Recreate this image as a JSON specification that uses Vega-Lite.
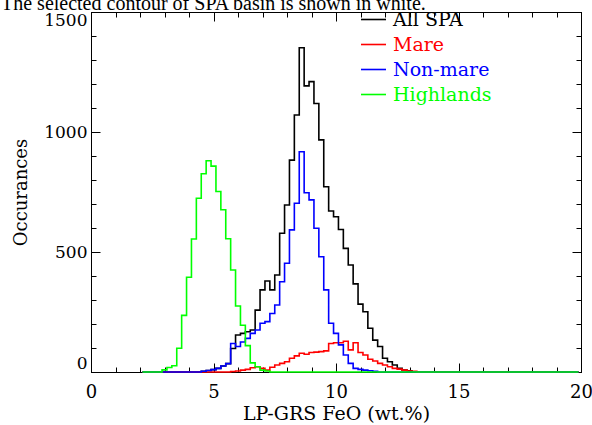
{
  "$schema": "https://vega.github.io/schema/vega-lite/v6.json",
  "autosize": "none",
  "width": 490,
  "height": 360,
  "padding": {"left": 91, "top": 12, "right": 11, "bottom": 53},
  "background": "white",
  "config": {
    "view": {"stroke": "black", "strokeWidth": 1},
    "font": "DejaVu Serif"
  },
  "title": {
    "text": "The selected contour of SPA basin is shown in white.",
    "anchor": "start",
    "frame": "group",
    "orient": "top",
    "dx": -90,
    "dy": 24,
    "offset": 0,
    "baseline": "alphabetic",
    "font": "Liberation Serif",
    "fontSize": 20,
    "fontWeight": "normal",
    "color": "black"
  },
  "data": {
    "values": [
      {"series": "All SPA", "x": 2.1, "n": 0},
      {"series": "All SPA", "x": 4.5, "n": 3},
      {"series": "All SPA", "x": 4.7, "n": 6},
      {"series": "All SPA", "x": 4.9, "n": 10},
      {"series": "All SPA", "x": 5.1, "n": 15},
      {"series": "All SPA", "x": 5.3, "n": 25},
      {"series": "All SPA", "x": 5.5, "n": 35},
      {"series": "All SPA", "x": 5.7, "n": 98},
      {"series": "All SPA", "x": 5.9, "n": 154},
      {"series": "All SPA", "x": 6.1, "n": 161},
      {"series": "All SPA", "x": 6.3, "n": 168},
      {"series": "All SPA", "x": 6.5, "n": 175},
      {"series": "All SPA", "x": 6.7, "n": 258},
      {"series": "All SPA", "x": 6.9, "n": 342},
      {"series": "All SPA", "x": 7.1, "n": 379},
      {"series": "All SPA", "x": 7.3, "n": 342},
      {"series": "All SPA", "x": 7.5, "n": 404},
      {"series": "All SPA", "x": 7.7, "n": 578},
      {"series": "All SPA", "x": 7.9, "n": 696},
      {"series": "All SPA", "x": 8.1, "n": 883},
      {"series": "All SPA", "x": 8.3, "n": 1071},
      {"series": "All SPA", "x": 8.5, "n": 1351},
      {"series": "All SPA", "x": 8.7, "n": 1192},
      {"series": "All SPA", "x": 8.9, "n": 1210},
      {"series": "All SPA", "x": 9.1, "n": 1119},
      {"series": "All SPA", "x": 9.3, "n": 967},
      {"series": "All SPA", "x": 9.5, "n": 772},
      {"series": "All SPA", "x": 9.7, "n": 671},
      {"series": "All SPA", "x": 9.9, "n": 647},
      {"series": "All SPA", "x": 10.1, "n": 594},
      {"series": "All SPA", "x": 10.3, "n": 515},
      {"series": "All SPA", "x": 10.5, "n": 446},
      {"series": "All SPA", "x": 10.7, "n": 367},
      {"series": "All SPA", "x": 10.9, "n": 283},
      {"series": "All SPA", "x": 11.1, "n": 251},
      {"series": "All SPA", "x": 11.3, "n": 182},
      {"series": "All SPA", "x": 11.5, "n": 133},
      {"series": "All SPA", "x": 11.7, "n": 106},
      {"series": "All SPA", "x": 11.9, "n": 57},
      {"series": "All SPA", "x": 12.1, "n": 43},
      {"series": "All SPA", "x": 12.3, "n": 29},
      {"series": "All SPA", "x": 12.5, "n": 15},
      {"series": "All SPA", "x": 12.7, "n": 8},
      {"series": "All SPA", "x": 12.9, "n": 5},
      {"series": "All SPA", "x": 13.1, "n": 0},
      {"series": "All SPA", "x": 19.9, "n": 0},

      {"series": "Mare", "x": 2.1, "n": 0},
      {"series": "Mare", "x": 5.7, "n": 2},
      {"series": "Mare", "x": 5.9, "n": 4},
      {"series": "Mare", "x": 6.1, "n": 8},
      {"series": "Mare", "x": 6.3, "n": 11},
      {"series": "Mare", "x": 6.5, "n": 18},
      {"series": "Mare", "x": 6.7, "n": 22},
      {"series": "Mare", "x": 6.9, "n": 15},
      {"series": "Mare", "x": 7.1, "n": 8},
      {"series": "Mare", "x": 7.3, "n": 20},
      {"series": "Mare", "x": 7.5, "n": 29},
      {"series": "Mare", "x": 7.7, "n": 36},
      {"series": "Mare", "x": 7.9, "n": 43},
      {"series": "Mare", "x": 8.1, "n": 57},
      {"series": "Mare", "x": 8.3, "n": 67},
      {"series": "Mare", "x": 8.5, "n": 78},
      {"series": "Mare", "x": 8.7, "n": 74},
      {"series": "Mare", "x": 8.9, "n": 81},
      {"series": "Mare", "x": 9.1, "n": 83},
      {"series": "Mare", "x": 9.3, "n": 85},
      {"series": "Mare", "x": 9.5, "n": 88},
      {"series": "Mare", "x": 9.7, "n": 119},
      {"series": "Mare", "x": 9.9, "n": 122},
      {"series": "Mare", "x": 10.1, "n": 122},
      {"series": "Mare", "x": 10.3, "n": 128},
      {"series": "Mare", "x": 10.5, "n": 92},
      {"series": "Mare", "x": 10.7, "n": 122},
      {"series": "Mare", "x": 10.9, "n": 81},
      {"series": "Mare", "x": 11.1, "n": 71},
      {"series": "Mare", "x": 11.3, "n": 53},
      {"series": "Mare", "x": 11.5, "n": 46},
      {"series": "Mare", "x": 11.7, "n": 36},
      {"series": "Mare", "x": 11.9, "n": 29},
      {"series": "Mare", "x": 12.1, "n": 22},
      {"series": "Mare", "x": 12.3, "n": 15},
      {"series": "Mare", "x": 12.5, "n": 12},
      {"series": "Mare", "x": 12.7, "n": 8},
      {"series": "Mare", "x": 12.9, "n": 4},
      {"series": "Mare", "x": 13.1, "n": 3},
      {"series": "Mare", "x": 13.3, "n": 0},
      {"series": "Mare", "x": 19.9, "n": 0},

      {"series": "Non-mare", "x": 2.1, "n": 0},
      {"series": "Non-mare", "x": 4.5, "n": 3},
      {"series": "Non-mare", "x": 4.7, "n": 6},
      {"series": "Non-mare", "x": 4.9, "n": 10},
      {"series": "Non-mare", "x": 5.1, "n": 15},
      {"series": "Non-mare", "x": 5.3, "n": 25},
      {"series": "Non-mare", "x": 5.5, "n": 35},
      {"series": "Non-mare", "x": 5.7, "n": 119},
      {"series": "Non-mare", "x": 5.9, "n": 106},
      {"series": "Non-mare", "x": 6.1, "n": 125},
      {"series": "Non-mare", "x": 6.3, "n": 140},
      {"series": "Non-mare", "x": 6.5, "n": 161},
      {"series": "Non-mare", "x": 6.7, "n": 175},
      {"series": "Non-mare", "x": 6.9, "n": 203},
      {"series": "Non-mare", "x": 7.1, "n": 210},
      {"series": "Non-mare", "x": 7.3, "n": 244},
      {"series": "Non-mare", "x": 7.5, "n": 279},
      {"series": "Non-mare", "x": 7.7, "n": 376},
      {"series": "Non-mare", "x": 7.9, "n": 453},
      {"series": "Non-mare", "x": 8.1, "n": 592},
      {"series": "Non-mare", "x": 8.3, "n": 703},
      {"series": "Non-mare", "x": 8.5, "n": 918},
      {"series": "Non-mare", "x": 8.7, "n": 747},
      {"series": "Non-mare", "x": 8.9, "n": 717},
      {"series": "Non-mare", "x": 9.1, "n": 599},
      {"series": "Non-mare", "x": 9.3, "n": 480},
      {"series": "Non-mare", "x": 9.5, "n": 342},
      {"series": "Non-mare", "x": 9.7, "n": 203},
      {"series": "Non-mare", "x": 9.9, "n": 161},
      {"series": "Non-mare", "x": 10.1, "n": 113},
      {"series": "Non-mare", "x": 10.3, "n": 71},
      {"series": "Non-mare", "x": 10.5, "n": 36},
      {"series": "Non-mare", "x": 10.7, "n": 15},
      {"series": "Non-mare", "x": 10.9, "n": 11},
      {"series": "Non-mare", "x": 11.1, "n": 8},
      {"series": "Non-mare", "x": 11.3, "n": 5},
      {"series": "Non-mare", "x": 11.5, "n": 3},
      {"series": "Non-mare", "x": 11.7, "n": 0},
      {"series": "Non-mare", "x": 19.9, "n": 0},

      {"series": "Highlands", "x": 2.1, "n": 0},
      {"series": "Highlands", "x": 2.9, "n": 9},
      {"series": "Highlands", "x": 3.1, "n": 19},
      {"series": "Highlands", "x": 3.3, "n": 26},
      {"series": "Highlands", "x": 3.5, "n": 99},
      {"series": "Highlands", "x": 3.7, "n": 236},
      {"series": "Highlands", "x": 3.9, "n": 395},
      {"series": "Highlands", "x": 4.1, "n": 554},
      {"series": "Highlands", "x": 4.3, "n": 724},
      {"series": "Highlands", "x": 4.5, "n": 826},
      {"series": "Highlands", "x": 4.7, "n": 880},
      {"series": "Highlands", "x": 4.9, "n": 858},
      {"series": "Highlands", "x": 5.1, "n": 752},
      {"series": "Highlands", "x": 5.3, "n": 676},
      {"series": "Highlands", "x": 5.5, "n": 555},
      {"series": "Highlands", "x": 5.7, "n": 425},
      {"series": "Highlands", "x": 5.9, "n": 275},
      {"series": "Highlands", "x": 6.1, "n": 195},
      {"series": "Highlands", "x": 6.3, "n": 110},
      {"series": "Highlands", "x": 6.5, "n": 38},
      {"series": "Highlands", "x": 6.7, "n": 22},
      {"series": "Highlands", "x": 6.9, "n": 8},
      {"series": "Highlands", "x": 7.1, "n": 4},
      {"series": "Highlands", "x": 7.3, "n": 0},
      {"series": "Highlands", "x": 19.9, "n": 0}
    ]
  },
  "layer": [
    {
      "mark": {"type": "line", "interpolate": "step-after", "strokeWidth": 1.6},
      "encoding": {
        "x": {
          "field": "x", "type": "quantitative",
          "scale": {"domain": [0, 20], "nice": false, "zero": false},
          "axis": {
            "orient": "bottom",
            "values": [0, 5, 10, 15, 20],
            "tickSize": -9,
            "tickColor": "black", "domainColor": "black", "grid": false,
            "labelFont": "DejaVu Serif", "labelFontSize": 18, "labelColor": "black",
            "labelPadding": 20, "labelFlush": false,
            "title": "LP-GRS FeO (wt.%)", "titleFont": "DejaVu Serif", "titleFontSize": 19,
            "titleFontWeight": "normal", "titleColor": "black", "titlePadding": 3
          }
        },
        "y": {
          "field": "n", "type": "quantitative",
          "scale": {"domain": [0, 1500], "nice": false},
          "axis": {
            "orient": "left",
            "values": [0, 500, 1000, 1500],
            "format": "d",
            "tickSize": -9,
            "tickColor": "black", "domainColor": "black", "grid": false,
            "labelFont": "DejaVu Serif", "labelFontSize": 17, "labelColor": "black",
            "labelPadding": 13, "labelFlush": true,
            "title": "Occurances", "titleFont": "DejaVu Serif", "titleFontSize": 18,
            "titleFontWeight": "normal", "titleColor": "black", "titlePadding": 13
          }
        },
        "color": {
          "field": "series", "type": "nominal",
          "scale": {"domain": ["All SPA", "Mare", "Non-mare", "Highlands"], "range": ["#000000", "#ff0000", "#0000ff", "#00ff00"]},
          "legend": {
            "orient": "none", "legendX": 269, "legendY": -6, "title": null,
            "symbolType": "stroke", "symbolSize": 625, "symbolStrokeWidth": 1.6,
            "labelFont": "DejaVu Serif", "labelFontSize": 19, "labelOffset": 6,
            "rowPadding": 1, "padding": 0,
            "encode": {"labels": {"update": {"fill": {"signal": "scale('color', datum.value)"}}}}
          }
        }
      }
    },
    {
      "mark": {"type": "line", "opacity": 0},
      "encoding": {
        "x": {
          "field": "x", "type": "quantitative",
          "axis": {
            "orient": "top", "values": [0, 5, 10, 15, 20], "labels": false, "tickSize": -9,
            "tickColor": "black", "domainColor": "black", "grid": false, "title": null
          }
        },
        "y": {
          "field": "n", "type": "quantitative",
          "axis": {
            "orient": "right", "values": [0, 500, 1000, 1500], "labels": false, "tickSize": -9,
            "tickColor": "black", "domainColor": "black", "grid": false, "title": null
          }
        }
      }
    },
    {
      "mark": {"type": "line", "opacity": 0},
      "encoding": {
        "x": {
          "field": "x", "type": "quantitative",
          "axis": {
            "orient": "bottom", "values": [1,2,3,4,6,7,8,9,11,12,13,14,16,17,18,19], "labels": false, "tickSize": -5,
            "tickColor": "black", "domainColor": "black", "grid": false, "title": null
          }
        },
        "y": {
          "field": "n", "type": "quantitative",
          "axis": {
            "orient": "left", "values": [100,200,300,400,600,700,800,900,1100,1200,1300,1400], "labels": false, "tickSize": -5,
            "tickColor": "black", "domainColor": "black", "grid": false, "title": null
          }
        }
      }
    },
    {
      "mark": {"type": "line", "opacity": 0},
      "encoding": {
        "x": {
          "field": "x", "type": "quantitative",
          "axis": {
            "orient": "top", "values": [1,2,3,4,6,7,8,9,11,12,13,14,16,17,18,19], "labels": false, "tickSize": -5,
            "tickColor": "black", "domainColor": "black", "grid": false, "title": null
          }
        },
        "y": {
          "field": "n", "type": "quantitative",
          "axis": {
            "orient": "right", "values": [100,200,300,400,600,700,800,900,1100,1200,1300,1400], "labels": false, "tickSize": -5,
            "tickColor": "black", "domainColor": "black", "grid": false, "title": null
          }
        }
      }
    }
  ],
  "resolve": {"axis": {"x": "independent", "y": "independent"}}
}
